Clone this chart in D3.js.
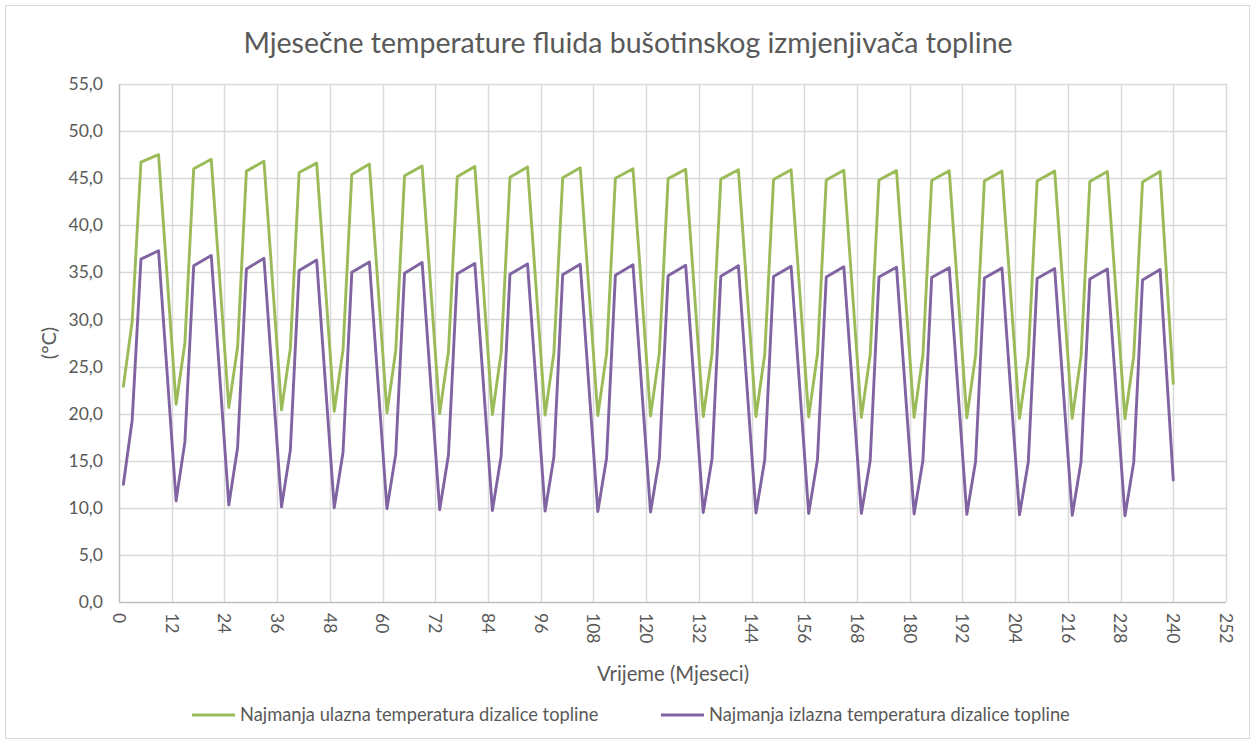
<!DOCTYPE html>
<html>
<head>
<meta charset="utf-8">
<script src="https://cdn.jsdelivr.net/npm/d3@7/dist/d3.min.js"></script>
<style>
  html, body { margin: 0; padding: 0; background: #fff; }
  svg text { font-family: Lato, "Open Sans", sans-serif; fill: #595959; }
</style>
</head>
<body>
<div id="chart"></div>
<script>
// podaci po godinama (20 godina), očitano sa slike
// mjesec u godini na kojem je vrh/lom krivulje
const keyMonths = [1, 3, 5, 9]
const lastMonth = 240

// Najmanja ulazna temperatura dizalice topline (°C)
const ulazJan = [22.9, 21.0, 20.65, 20.4, 20.25, 20.1, 20.0, 19.9, 19.85, 19.8, 19.75, 19.7, 19.7, 19.65, 19.6, 19.6, 19.55, 19.5, 19.5, 19.45]
const ulazMar = [29.8, 27.5, 27.1, 26.9, 26.8, 26.7, 26.6, 26.5, 26.45, 26.4, 26.4, 26.35, 26.3, 26.3, 26.25, 26.2, 26.2, 26.15, 26.1, 26.1]
const ulazMay = [46.7, 46.0, 45.75, 45.6, 45.4, 45.25, 45.15, 45.1, 45.05, 45.0, 44.95, 44.9, 44.85, 44.8, 44.8, 44.75, 44.7, 44.7, 44.65, 44.6]
const ulazSep = [47.5, 47.0, 46.8, 46.6, 46.5, 46.3, 46.25, 46.2, 46.1, 46.0, 45.95, 45.9, 45.9, 45.85, 45.8, 45.8, 45.75, 45.75, 45.7, 45.7]
const ulazEnd = 23.2

// Najmanja izlazna temperatura dizalice topline (°C)
const izlazJan = [12.5, 10.75, 10.3, 10.1, 10.0, 9.9, 9.8, 9.7, 9.65, 9.6, 9.55, 9.5, 9.45, 9.4, 9.4, 9.35, 9.3, 9.25, 9.2, 9.15]
const izlazMar = [19.3, 17.0, 16.4, 16.1, 15.9, 15.7, 15.6, 15.5, 15.4, 15.3, 15.2, 15.2, 15.1, 15.1, 15.0, 15.0, 14.95, 14.9, 14.9, 14.85]
const izlazMay = [36.4, 35.7, 35.35, 35.2, 35.0, 34.9, 34.85, 34.8, 34.75, 34.7, 34.65, 34.6, 34.55, 34.5, 34.5, 34.45, 34.4, 34.35, 34.3, 34.2]
const izlazSep = [37.3, 36.8, 36.5, 36.3, 36.1, 36.05, 35.95, 35.9, 35.85, 35.8, 35.75, 35.7, 35.65, 35.6, 35.55, 35.5, 35.45, 35.4, 35.35, 35.3]
const izlazEnd = 12.95

const xTicks = d3.range(0, 253, 12)
const yTicks = d3.range(0, 56, 5)

const seriesNames = ['Najmanja ulazna temperatura dizalice topline', 'Najmanja izlazna temperatura dizalice topline']
const seriesColors = ['#9BBB59', '#8064A2']

// spoji godišnje vrijednosti u niz točaka [mjesec, vrijednost]
function buildSeries(jan, mar, may, sep, end) {
  const pts = []
  jan.forEach((v, y) => {
    const cols = [jan[y], mar[y], may[y], sep[y]]
    keyMonths.forEach((m, i) => pts.push([y * 12 + m, cols[i]]))
  })
  pts.push([lastMonth, end])
  return pts
}

const series = [
  buildSeries(ulazJan, ulazMar, ulazMay, ulazSep, ulazEnd),
  buildSeries(izlazJan, izlazMar, izlazMay, izlazSep, izlazEnd)
]

const width = 1254
const height = 742
const plot = { left: 119, right: 1226, top: 84, bottom: 602 }

const svg = d3.select('#chart').append('svg')
  .attr('width', width)
  .attr('height', height)

// okvir grafikona
svg.append('rect')
  .attr('x', 5.5).attr('y', 5.5)
  .attr('width', 1244).attr('height', 733)
  .attr('fill', '#fff')
  .attr('stroke', '#d9d9d9')

const x = d3.scaleLinear().domain([0, 252]).range([plot.left, plot.right])
const y = d3.scaleLinear().domain([0, 55]).range([plot.bottom, plot.top])

const locale = d3.formatLocale({ decimal: ',', thousands: '.', grouping: [3], currency: ['', ' €'] })
const fmt = locale.format('.1f')

// mreža
svg.append('g').selectAll('line').data(yTicks.slice(1)).enter().append('line')
  .attr('x1', plot.left).attr('x2', plot.right)
  .attr('y1', d => Math.round(y(d)) + 0.5).attr('y2', d => Math.round(y(d)) + 0.5)
  .attr('stroke', '#d9d9d9').attr('stroke-width', 1.5)

svg.append('g').selectAll('line').data(xTicks.slice(1)).enter().append('line')
  .attr('x1', d => Math.round(x(d)) + 0.5).attr('x2', d => Math.round(x(d)) + 0.5)
  .attr('y1', plot.top).attr('y2', plot.bottom)
  .attr('stroke', '#d9d9d9').attr('stroke-width', 1.5)

// osi
svg.append('line')
  .attr('x1', plot.left + 0.5).attr('x2', plot.left + 0.5)
  .attr('y1', plot.top).attr('y2', plot.bottom)
  .attr('stroke', '#bfbfbf').attr('stroke-width', 1.5)
svg.append('line')
  .attr('x1', plot.left).attr('x2', plot.right)
  .attr('y1', plot.bottom + 0.5).attr('y2', plot.bottom + 0.5)
  .attr('stroke', '#bfbfbf').attr('stroke-width', 1.5)

// oznake y osi
svg.append('g').selectAll('text').data(yTicks).enter().append('text')
  .attr('x', 103)
  .attr('y', d => y(d))
  .attr('dy', '0.35em')
  .attr('text-anchor', 'end')
  .attr('font-size', '17.5px')
  .text(d => fmt(d))

// oznake x osi (okrenute)
svg.append('g').selectAll('text').data(xTicks).enter().append('text')
  .attr('transform', d => 'translate(' + x(d) + ',' + 613 + ') rotate(90)')
  .attr('dy', '0.35em')
  .attr('text-anchor', 'start')
  .attr('font-size', '17.5px')
  .text(d => d)

// linije
const line = d3.line().x(d => x(d[0])).y(d => y(d[1]))
svg.append('g').selectAll('path').data(series).enter().append('path')
  .attr('d', line)
  .attr('fill', 'none')
  .attr('stroke', (d, i) => seriesColors[i])
  .attr('stroke-width', 2.9)
  .attr('stroke-linejoin', 'round')
  .attr('stroke-linecap', 'round')

// naslov
svg.append('text')
  .attr('x', 628).attr('y', 53)
  .attr('text-anchor', 'middle')
  .attr('font-size', '28.5px')
  .text('Mjesečne temperature fluida bušotinskog izmjenjivača topline')

// naslovi osi
svg.append('text')
  .attr('x', 673).attr('y', 681)
  .attr('text-anchor', 'middle')
  .attr('font-size', '20.3px')
  .text('Vrijeme (Mjeseci)')

svg.append('text')
  .attr('transform', 'translate(56,' + ((plot.top + plot.bottom) / 2) + ') rotate(-90)')
  .attr('text-anchor', 'middle')
  .attr('font-size', '20px')
  .text('(°C)')

// legenda
const legendX = [192, 661]
const legend = svg.append('g').selectAll('g').data(seriesNames).enter().append('g')
  .attr('transform', (d, i) => 'translate(' + legendX[i] + ',715)')
legend.append('line')
  .attr('x1', 0).attr('x2', 43).attr('y1', 0).attr('y2', 0)
  .attr('stroke', (d, i) => seriesColors[i])
  .attr('stroke-width', 2.9)
legend.append('text')
  .attr('x', 48).attr('dy', '0.35em')
  .attr('font-size', '18.3px')
  .text(d => d)
</script>
</body>
</html>
